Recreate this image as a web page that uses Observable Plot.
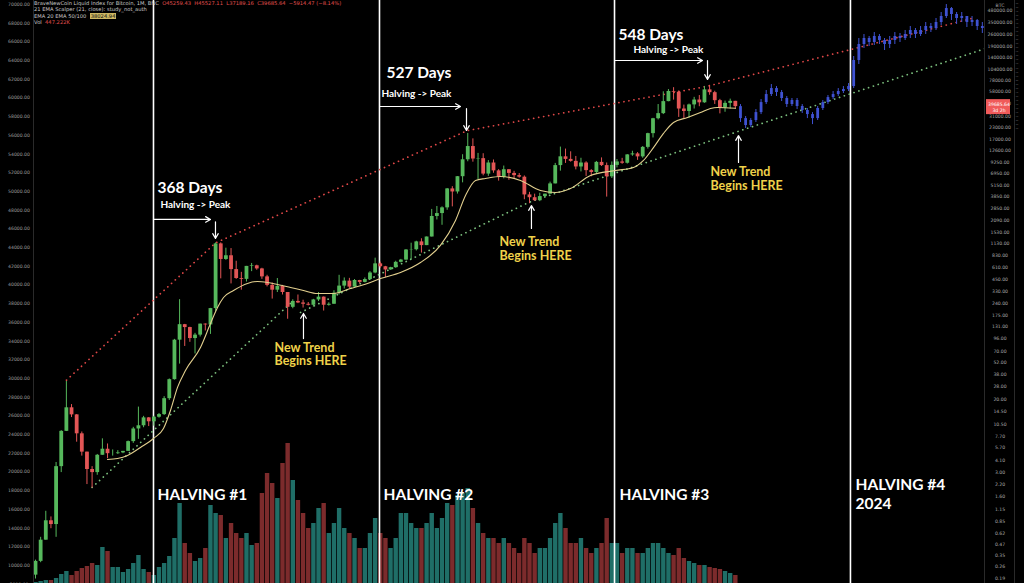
<!DOCTYPE html>
<html><head><meta charset="utf-8">
<script src="https://cdn.jsdelivr.net/npm/d3@7"></script>
<script src="https://cdn.jsdelivr.net/npm/@observablehq/plot@0.6"></script>
<style>
html,body{margin:0;padding:0;background:#000;overflow:hidden}
#wrap{position:relative;width:1024px;height:583px;background:#000;overflow:hidden}
.layer{position:absolute;top:0}
.layer svg{display:block;background:transparent}
#hdr{position:absolute;left:34px;top:0px;font:5.2px "DejaVu Sans",sans-serif;line-height:6.4px;color:#c9c9c9;white-space:nowrap}
#hdr .r{color:#e0504f}
#hdr .y{background:#cdb862;color:#111;padding:0 1px}
</style></head><body><div id="wrap"></div><script>
// ---------------- DATA ----------------
const firstMonth = "2010-12"; // monthly candles, BNC Liquid Index
const opens  = [0.21,0.30,0.52,0.86,0.78,3.50,8.74,16.1,13.4,8.20,5.10,3.25,3.00,4.70,5.50,4.90,4.90,5.00,5.20,6.70,9.30,10.1,12.4,11.2,12.6,13.5,20.4,33.4,93,139,129,97,106,141,138,211,1130,754,830,580,460,450,630,640,590,480,385,340,375,320,218,254,244,236,230,264,284,230,236,314,378,430,368,437,416,448,531,673,624,574,609,700,742,964,970,1190,1080,1350,2300,2480,2875,4700,4340,6450,10000,14100,10200,10300,6900,9200,7500,6400,7730,7020,6630,6370,4020,3740,3460,3850,4100,5350,8600,10800,10100,9600,8300,9200,7550,7200,9350,8600,6430,8650,9450,9140,11350,11650,10780,13800,19700,29000,33100,45200,58800,57700,37300,35000,41500,47100,43800,61300,57000,46300,38500,43200,45525];
const highs  = [0.31,0.56,1.10,0.95,3.90,8.90,31.9,17.5,13.5,8.60,5.10,3.50,4.80,7.20,6.30,5.40,5.30,5.20,6.80,9.70,16.4,12.9,12.5,12.9,13.9,21.5,34.0,95.0,266,140,130,111,141,142,212,1160,1160,1010,1000,720,540,630,680,650,600,500,410,460,385,320,265,300,262,247,268,320,285,245,335,500,467,462,448,439,467,550,780,705,630,615,720,755,975,1150,1210,1290,1350,2760,2980,2950,4750,4980,6470,11400,19800,17200,11800,11700,9800,9950,7750,8500,7750,7410,7000,6580,4300,4100,4200,4100,5600,9100,13900,13200,12300,10900,10400,9500,7750,9580,10500,9200,9450,10080,10380,11440,12480,12050,14100,19900,29300,41900,58300,61800,64900,59500,41300,42400,50500,52900,67000,69000,59100,47900,45800,48200,45527];
const lows   = [0.19,0.29,0.52,0.70,0.56,3.00,8.70,12.5,6.60,4.60,2.20,2.00,2.80,4.70,4.30,4.60,4.80,4.90,5.20,6.40,7.10,9.60,9.90,10.0,12.3,13.2,19.5,33.0,50,79,88,65,101,118,108,196,456,737,400,450,340,420,550,570,450,370,270,320,300,160,210,240,214,226,220,253,198,225,236,300,350,350,368,400,414,440,520,600,470,570,600,690,740,750,940,890,1080,1350,2100,1830,2700,2950,4110,5500,9500,9400,6000,6600,6500,7050,5750,6100,5880,6100,6200,3550,3200,3400,3380,3750,4100,5350,7450,9100,9400,7700,7300,6500,6430,6900,8400,3800,6150,8100,8900,8950,10950,9850,10400,13200,17600,28100,32300,45000,47000,30000,28800,29300,37300,39600,43300,53300,42000,32900,34300,37200,37189];
const closes = [0.30,0.52,0.86,0.78,3.50,8.74,16.1,13.4,8.20,5.10,3.25,3.00,4.70,5.50,4.90,4.90,5.00,5.20,6.70,9.30,10.1,12.4,11.2,12.6,13.5,20.4,33.4,93,139,129,97,106,141,138,211,1130,754,830,580,460,450,630,640,590,480,385,340,375,320,218,254,244,236,230,264,284,230,236,314,378,430,368,437,416,448,531,673,624,574,609,700,742,964,970,1190,1080,1350,2300,2480,2875,4700,4340,6450,10000,14100,10200,10300,6900,9200,7500,6400,7730,7020,6630,6370,4020,3740,3460,3850,4100,5350,8600,10800,10100,9600,8300,9200,7550,7200,9350,8600,6430,8650,9450,9140,11350,11650,10780,13800,19700,29000,33100,45200,58800,57700,37300,35000,41500,47100,43800,61300,57000,46300,38500,43200,45525,39685.64];
const volumes = [1, 2,3,3,5,9,12,8,12,15,17,20,18, 36,32,16,16,11,14,20,28,14,11,8,16, 20,27,45,80,40,30,22,25,35,78,70,68, 45,60,50,45,50,38,40,90,110,100,85,120, 140,103,83,70,55,60,75,80,50,60,75,55, 50,45,35,35,50,65,50,45,35,45,70,70, 60,55,55,60,70,55,65,80,78,88,90,95, 75,60,50,45,45,40,45,40,35,30,45,40, 30,35,35,45,60,70,55,40,40,45,35,30, 35,40,65,40,40,30,35,35,30,30,35,40, 40,35,30,28,35,25,22,20,18,18,16,15, 14,12,10,8];

// Blue projected path (fractal), monthly from May 2022
const projStart = "2022-05";
const projOpen  = [39700,29100,24300,27700,34000,44100,54300,63400,57200,49000,41900,46500,39800,35900,32300,29100,37800,44100,50200,54300,58700,61800,66800,131200,198700,232200,209300,244500,220400,198700,220400,244500,232200,257500,285700,257500,285700,316900,300900,351600,410800,505100,432700,390000,410800,351600,370300,316900];
const projHigh  = [41900,30700,29100,36800,47700,60300,70400,66800,60300,51600,49000,49000,41900,37800,34000,39800,46500,52900,58700,63400,66800,72200,145600,232200,257500,244500,271200,257500,232200,244500,271200,264300,285700,316900,300900,316900,351600,342600,390000,455700,560300,518400,455700,455700,410800,410800,380000,351600];
const projLow   = [26300,22500,23100,26300,32300,41900,51600,51600,45300,38800,39800,36800,33200,29100,24900,27700,35900,41900,47700,51600,55800,58700,63400,118300,179100,188600,193600,198700,170100,179100,198700,209300,220400,232200,232200,244500,257500,271200,285700,325300,390000,370300,333800,351600,308800,316900,285700,264300];
const projClose = [29100,24300,27700,34000,44100,54300,63400,57200,49000,41900,46500,39800,35900,32300,29100,37800,44100,50200,54300,58700,61800,66800,131200,198700,232200,209300,244500,220400,198700,220400,244500,232200,257500,285700,257500,285700,316900,300900,351600,410800,505100,432700,390000,410800,351600,370300,316900,300900];

// 20 EMA (yellow): decimal year, value
const emaYears  = [2012.124,2012.286,2012.448,2012.659,2012.869,2013.031,2013.144,2013.258,2013.387,2013.630,2013.792,2013.906,2014.003,2014.165,2014.391,2014.553,2014.715,2014.877,2015.088,2015.298,2015.525,2015.784,2016.059,2016.335,2016.545,2016.869,2017.193,2017.516,2017.760,2017.922,2018.084,2018.245,2018.488,2018.812,2019.136,2019.379,2019.622,2019.946,2020.351,2020.642,2020.804,2020.966,2021.128,2021.290,2021.517,2021.727,2021.889,2022.002,2022.294];
const emaValues = [4.22,4.33,4.68,5.76,7.27,9.4,15.0,27.3,42.4,77,143,217,281,337,405,426,415,394,365,337,312,312,355,405,460,538,697,1085,2070,3960,5850,6160,6490,5850,4510,4280,4750,6650,7570,8190,9830,13700,19800,26300,29900,34000,37800,38800,38025];

// trend lines (dotted)
const topTrendYears  = [2011.46, 2013.875, 2017.95, 2021.824, 2026.18];
const topTrendValues = [33, 1160, 21300, 66900, 400000];
const lowTrendAYears  = [2011.875, 2015.136];
const lowTrendAValues = [2.04, 260];
const lowTrendBYears  = [2015.25, 2018.942, 2022.375, 2026.342];
const lowTrendBValues = [190.7, 3304, 21300, 179200];

// halvings
const halvingYears  = [2012.869, 2016.529, 2020.335, 2024.156];
const halvingLabels = ["HALVING #1", "HALVING #2", "HALVING #3", "HALVING #4\n2024"];
const halvingLabelYears = [2012.934, 2016.594, 2020.416, 2024.237];
const halvingLabelLevel = 1.746;

// halving -> peak notes
const peakTitles   = ["368 Days", "527 Days", "548 Days"];
const peakTitleX   = [2012.934, 2016.642, 2020.399];
const peakTitleY   = [4750, 93700, 251000];
const peakSubX     = [2012.982, 2016.561, 2020.642];
const peakSubY     = [3130, 55800, 174500];
const peakArrowX1  = [2012.869, 2016.529, 2020.335];
const peakArrowX2  = [2013.792, 2017.841, 2021.760];
const peakArrowY   = [2130, 39800, 131200];
const peakDownX    = [2013.873, 2017.938, 2021.841];
const peakDownTop  = [2000, 37800, 131200];
const peakDownEnd  = [1300, 21370, 80200];

// "New Trend Begins HERE" notes
const trendNoteX   = [2014.829, 2018.472, 2021.889];
const trendLine1Y  = [75.0, 1171, 7214];
const trendLine2Y  = [53.5, 830, 5120];
const trendArrowX  = [2015.298, 2018.99, 2022.343];
const trendArrowY1 = [97, 1684, 9326];
const trendArrowY2 = [186, 3057, 18780];

// axes tick labels
const rightTicks = [480000,350000,260000,190000,140000,104000,78000,58000,43000,31000,23000,17000,12600,9250,6950,5150,3850,2850,2090,1530,1130,830,610,450,330,240,175,131,96,70,52,38,28,20,14.5,10.5,7.7,5.7,4.1,3.0,2.2,1.6,1.15,0.85,0.62,0.47,0.35,0.26,0.19];
const leftTicks = [70000,68000,66000,64000,62000,60000,58000,56000,54000,52000,50000,48000,46000,44000,42000,40000,38000,36000,34000,32000,30000,28000,26000,24000,22000,20000,18000,16000,14000,12000,10000,8000];
const farRightTicks = [4900,4800,4700,4600,4500,4400,4300,4200,4100,4000,3900,3800,3700,3600,3500,3400,3300,3200,3100,3000,2900,2800,2700,2600,2500,2400,2300,2200,2100,2000,1900,1800];
const lastPrice = 39685.64;

// ---------------- BUILD ----------------
const GREEN = "#56b85c", RED = "#e35656", BLUE = "#3f52d2";
const VOL_UP = "#1f6e67", VOL_DN = "#7c2b2c";
const monthYear = (s, i) => { const [y, m] = s.split("-").map(Number); const k = (m - 1) + i; return y + Math.floor(k / 12) + ((k % 12) + 0.5) / 12; };
const candles = closes.map((c, i) => ({x: monthYear(firstMonth, i), open: opens[i], high: highs[i], low: lows[i], close: c, vol: volumes[i]}));
const proj = projClose.map((c, i) => ({x: monthYear(projStart, i), open: projOpen[i], high: projHigh[i], low: projLow[i], close: c}));
const ema = emaYears.map((x, i) => ({x, y: emaValues[i]}));
const topTrend = topTrendYears.map((x, i) => ({x, y: topTrendValues[i]}));
const lowA = lowTrendAYears.map((x, i) => ({x, y: lowTrendAValues[i]}));
const lowB = lowTrendBYears.map((x, i) => ({x, y: lowTrendBValues[i]}));
const halvings = halvingYears.map((x, i) => ({x, label: halvingLabels[i], lx: halvingLabelYears[i]}));
const peaks = peakTitles.map((t, i) => ({t, tx: peakTitleX[i], ty: peakTitleY[i], sx: peakSubX[i], sy: peakSubY[i], ax1: peakArrowX1[i], ax2: peakArrowX2[i], ay: peakArrowY[i], dx: peakDownX[i], d1: peakDownTop[i], d2: peakDownEnd[i]}));
const notes = trendNoteX.map((x, i) => ({x, y1: trendLine1Y[i], y2: trendLine2Y[i], ax: trendArrowX[i], a1: trendArrowY1[i], a2: trendArrowY2[i]}));
const isUp = d => d.close >= d.open;

const X = {type: "linear", domain: [2010.3915, 2026.9745], range: [0, 1024], axis: null};
const Y = {type: "log", domain: [0.19, 480000], range: [578.5, 10], axis: null};
const FONT = "Lato, 'Open Sans', sans-serif";

const wrap = document.getElementById("wrap");
function layer(svg, left) { const d = document.createElement("div"); d.className = "layer"; d.style.left = left + "px"; d.appendChild(svg); wrap.appendChild(d); return d; }

// volume
const volPlot = Plot.plot({
  width: 1024, height: 583, margin: 0, x: X,
  y: {type: "linear", domain: [0, 150], range: [583, 433], axis: null},
  marks: [Plot.ruleX(candles, {x: "x", y1: 0, y2: "vol", stroke: d => isUp(d) ? VOL_UP : VOL_DN, strokeWidth: 4.4})]
});
layer(volPlot, 0);

// main price chart
const noteText = {textAnchor: "start", fill: "#efd24a", fontSize: 12.5, fontWeight: "bold", fontFamily: FONT, lineAnchor: "middle"};
const main = Plot.plot({
  width: 1024, height: 583, margin: 0, x: X, y: Y, color: {type: "identity"},
  style: {background: "transparent", overflow: "visible"},
  marks: [
    Plot.ruleX(halvings, {x: "x", stroke: "#ffffff", strokeWidth: 1.6}),
    Plot.line(topTrend, {x: "x", y: "y", stroke: "#e04848", strokeWidth: 1.7, strokeDasharray: "0.1 5", strokeLinecap: "round"}),
    Plot.line(lowA, {x: "x", y: "y", stroke: "#7cc07e", strokeWidth: 1.7, strokeDasharray: "0.1 5", strokeLinecap: "round"}),
    Plot.line(lowB, {x: "x", y: "y", stroke: "#7cc07e", strokeWidth: 1.7, strokeDasharray: "0.1 5", strokeLinecap: "round"}),
    Plot.ruleX(candles, {x: "x", y1: "low", y2: "high", stroke: d => isUp(d) ? GREEN : RED, strokeWidth: 1}),
    Plot.ruleX(candles, {x: "x", y1: "open", y2: "close", stroke: d => isUp(d) ? GREEN : RED, strokeWidth: 3.8}),
    Plot.line(ema, {x: "x", y: "y", stroke: "#e2cf8e", strokeWidth: 1.1, curve: "monotone-x"}),
    Plot.ruleX(proj, {x: "x", y1: "low", y2: "high", stroke: BLUE, strokeWidth: 1}),
    Plot.ruleX(proj, {x: "x", y1: "open", y2: "close", stroke: BLUE, strokeWidth: 2.8}),
    Plot.text(halvings, {x: "lx", y: () => halvingLabelLevel, text: "label", textAnchor: "start", fill: "#fff", fontSize: 15.5, fontWeight: "bold", fontFamily: FONT, lineHeight: 1.25}),
    Plot.text(peaks, {x: "tx", y: "ty", text: "t", textAnchor: "start", fill: "#fff", fontSize: 15.5, fontWeight: "bold", fontFamily: FONT}),
    Plot.text(peaks, {x: "sx", y: "sy", text: () => "Halving -> Peak", textAnchor: "start", fill: "#fff", fontSize: 10, fontWeight: "bold", fontFamily: FONT}),
    Plot.arrow(peaks, {x1: "ax1", x2: "ax2", y1: "ay", y2: "ay", stroke: "#fff", strokeWidth: 1.2, headLength: 7}),
    Plot.arrow(peaks, {x1: "dx", x2: "dx", y1: "d1", y2: "d2", stroke: "#fff", strokeWidth: 1.2, headLength: 7}),
    Plot.text(notes, {x: "x", y: "y1", text: () => "New Trend", ...noteText}),
    Plot.text(notes, {x: "x", y: "y2", text: () => "Begins HERE", ...noteText}),
    Plot.arrow(notes, {x1: "ax", x2: "ax", y1: "a1", y2: "a2", stroke: "#fff", strokeWidth: 1.2, headLength: 7})
  ]
});
layer(main, 0);

// left axis panel
const leftAxis = Plot.plot({
  width: 33, height: 583, margin: 0,
  y: {type: "linear", domain: [8075, 70428], range: [583, 0], axis: null},
  style: {background: "#000"},
  marks: [Plot.text(leftTicks, {y: d => d, text: d => d.toFixed(2), frameAnchor: "middle", dx: 2, fontSize: 4.6, fill: "#9a9a9a", fontFamily: "DejaVu Sans"})]
});
const ld = layer(leftAxis, 0); ld.style.borderRight = "1px solid #2a2a2a";

// right price axis panel
const rightAxis = Plot.plot({
  width: 29, height: 583, margin: 0, y: Y,
  style: {background: "#000"},
  marks: [
    Plot.text(rightTicks, {y: d => d, text: d => d.toFixed(2), frameAnchor: "middle", fontSize: 4.6, fill: "#a8a8a8", fontFamily: "DejaVu Sans"}),
    Plot.text(["BTC"], {frameAnchor: "top", dy: 3, fontSize: 4.6, fill: "#a8a8a8", fontFamily: "DejaVu Sans"}),
    Plot.tickY([lastPrice], {y: d => d, stroke: "#f05a5a", strokeWidth: 15, insetLeft: 1, insetRight: 4}),
    Plot.text([lastPrice], {y: d => d, text: d => d.toFixed(2) + "\n3d 2h", frameAnchor: "middle", dx: -1, fontSize: 4.6, fill: "#fff", fontFamily: "DejaVu Sans", lineHeight: 1.3})
  ]
});
const rd = layer(rightAxis, 984); rd.style.borderLeft = "1px solid #2a2a2a"; rd.style.borderRight = "1px solid #2a2a2a";

// far right (second) axis, cut by the window edge as in the screenshot
const farAxis = Plot.plot({
  width: 40, height: 583, margin: 0,
  y: {type: "linear", domain: [1727, 4996], range: [583, 0], axis: null},
  style: {background: "#000"},
  marks: [Plot.text(farRightTicks, {y: d => d, text: d => String(d), frameAnchor: "left", dx: 2, textAnchor: "start", fontSize: 4.6, fill: "#9a9a9a", fontFamily: "DejaVu Sans"})]
});
layer(farAxis, 1015);

// header legend
const hdr = document.createElement("div"); hdr.id = "hdr";
hdr.innerHTML = 'BraveNewCoin Liquid Index for Bitcoin, 1M, BNC&nbsp; <span class="r">O45259.43 &nbsp;H45527.11 &nbsp;L37189.16 &nbsp;C39685.64 &nbsp;−5914.47 (−8.14%)</span><br>21 EMA Scalper (21, close): study_not_auth<br>EMA 20 EMA 50/100 &nbsp;<span class="y">38024.94</span><br>Vol &nbsp;<span class="r">447.222K</span>';
wrap.appendChild(hdr);
</script></body></html>
